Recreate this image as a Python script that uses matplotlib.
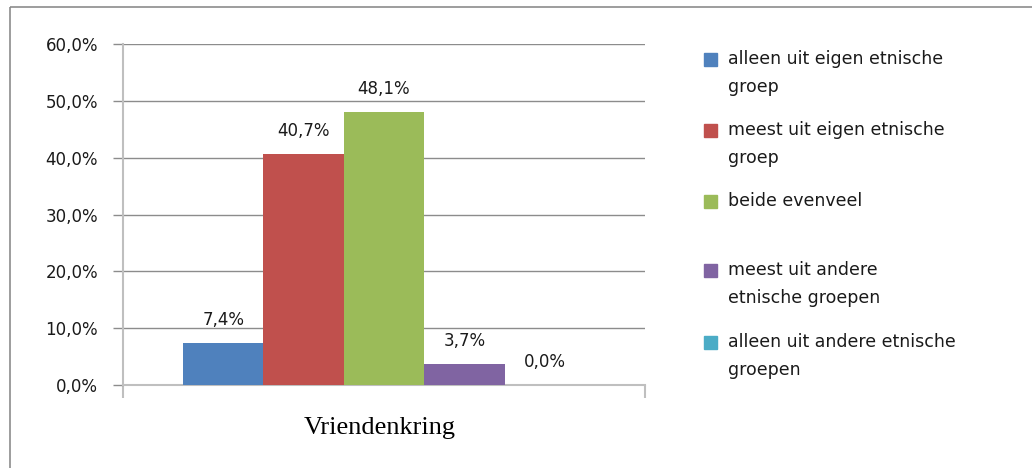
import matplotlib
matplotlib.use("Agg")
import matplotlib.pyplot as plt
from matplotlib.patches import Rectangle

category = "Vriendenkring"
series = ["alleen uit eigen etnische\ngroep",
          "meest uit eigen etnische\ngroep",
          "beide evenveel",
          "meest uit andere\netnische groepen",
          "alleen uit andere etnische\ngroepen"]
values = [7.4, 40.7, 48.1, 3.7, 0.0]
colors = ["#4F81BD", "#C0504D", "#9BBB59", "#8064A2", "#4BACC6"]
yticks = [0, 10, 20, 30, 40, 50, 60]

W, H = 1032, 468
fig = plt.figure(figsize=(W / 100, H / 100), dpi=100)

# outer chart frame
fig.add_artist(Rectangle((10 / W, 1 - 7 / H), 1.2, -1.2, transform=fig.transFigure,
                         fill=False, edgecolor="#8C8C8C", linewidth=1.2))

ax = fig.add_axes([123 / W, (H - 385) / H, (645 - 123) / W, 341 / H])
ax.set_xlim(-0.5, 0.5)
ax.set_ylim(0, 60)

bw = 0.154
n = len(values)
for i, (v, c) in enumerate(zip(values, colors)):
    x = (i - (n - 1) / 2) * bw
    ax.bar(x, v, width=bw, color=c, zorder=3)
    ax.annotate(f"{v:.1f}%".replace(".", ","), (x, v), xytext=(0, 10),
                textcoords="offset points", ha="center", va="bottom",
                fontsize=12, color="#1a1a1a", family="DejaVu Sans")

ax.set_yticks(yticks)
ax.set_yticklabels([f"{t:.1f}%".replace(".", ",") for t in yticks],
                   fontsize=12, color="#1a1a1a", family="DejaVu Sans")
ax.yaxis.grid(True, color="#8C8C8C", linewidth=1.0, zorder=0)
ax.tick_params(axis="y", length=7, width=1, color="#8C8C8C", pad=11)
ax.set_xticks([-0.5, 0.5])
ax.set_xticklabels(["", ""])
ax.tick_params(axis="x", length=9, width=1.5, color="#BFBFBF")
for s in ["top", "right"]:
    ax.spines[s].set_visible(False)
ax.spines["left"].set_color("#BFBFBF")
ax.spines["left"].set_linewidth(1.5)
ax.spines["bottom"].set_color("#BFBFBF")
ax.spines["bottom"].set_linewidth(1.5)

fig.text(380 / W, 1 - 428 / H, category, ha="center", va="center",
         fontsize=19, family="Liberation Serif", color="#000000")

# legend
entry_y = [59, 130, 201, 270, 342]
for lab, c, yy in zip(series, colors, entry_y):
    fig.add_artist(Rectangle((704 / W, 1 - (yy + 7) / H), 13 / W, 13 / H,
                             transform=fig.transFigure, color=c))
    fig.text(728 / W, 1 - (yy - 9) / H, lab, ha="left", va="top",
             fontsize=12.5, family="DejaVu Sans", color="#1a1a1a", linespacing=1.7)

fig.savefig("out.png", dpi=100)
